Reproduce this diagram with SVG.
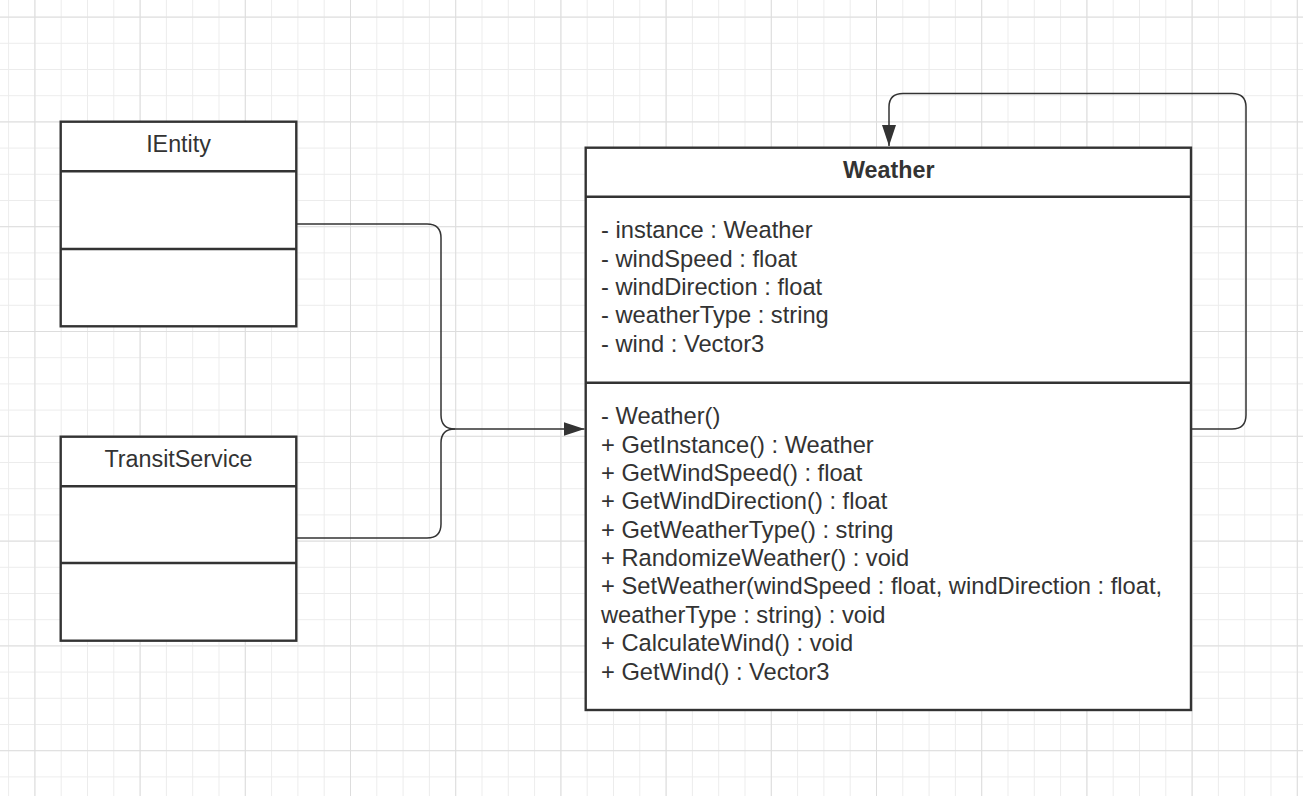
<svg xmlns="http://www.w3.org/2000/svg" width="1303" height="796" viewBox="0 0 1303 796">
  <style>
    .box { fill: #ffffff; stroke: #333333; stroke-width: 2.4; }
    .div { stroke: #333333; stroke-width: 2.4; fill: none; }
    .conn { fill: none; stroke: #333333; stroke-width: 1.5; }
    .t { font-family: "Liberation Sans", Arial, sans-serif; font-size: 23.3px; fill: #333333; }
    .body { font-size: 23.7px; }
    .title { text-anchor: middle; }
    .bold { font-weight: bold; }
  </style>
  <defs>
    <pattern id="minor" x="8.1" y="16.6" width="26.3" height="26.2" patternUnits="userSpaceOnUse">
      <path d="M0.5,0 V26.2 M0,0.5 H26.3" stroke="#ececec" stroke-width="1" fill="none"/>
    </pattern>
    <pattern id="major" x="34.4" y="16.6" width="105.2" height="104.8" patternUnits="userSpaceOnUse">
      <path d="M0.5,0 V104.8 M0,0.5 H105.2" stroke="#dddddd" stroke-width="1" fill="none"/>
    </pattern>
    <marker id="arrow" markerUnits="userSpaceOnUse" markerWidth="22" markerHeight="14" refX="21" refY="7" orient="auto">
      <path d="M0,0 L21,7 L0,14 Z" fill="#333333"/>
    </marker>
  </defs>

  <rect width="1303" height="796" fill="#ffffff"/>
  <rect width="1303" height="796" fill="url(#minor)"/>
  <rect width="1303" height="796" fill="url(#major)"/>

  <g id="connectors">
    <path class="conn" d="M297,224 H427 Q441,224 441,238 V415 Q441,429 455,429 H584.5" marker-end="url(#arrow)"/>
    <path class="conn" d="M297,538 H427 Q441,538 441,524 V443 Q441,429 455,429"/>
    <path class="conn" d="M1191,429 H1232 Q1246,429 1246,415 V107 Q1246,93.5 1232,93.5 H903 Q889,93.5 889,107 V146" marker-end="url(#arrow)"/>
  </g>

  <g id="IEntity">
    <rect class="box" x="60.7" y="121.7" width="235.6" height="204.6"/>
    <line class="div" x1="60.7" y1="171.2" x2="296.3" y2="171.2"/>
    <line class="div" x1="60.7" y1="249" x2="296.3" y2="249"/>
    <text class="t title" x="178.5" y="151.7">IEntity</text>
  </g>

  <g id="TransitService">
    <rect class="box" x="60.7" y="436.7" width="235.6" height="204"/>
    <line class="div" x1="60.7" y1="486.3" x2="296.3" y2="486.3"/>
    <line class="div" x1="60.7" y1="563" x2="296.3" y2="563"/>
    <text class="t title" x="178.5" y="467.3">TransitService</text>
  </g>

  <g id="Weather">
    <rect class="box" x="585.7" y="147.7" width="605.3" height="562.3"/>
    <line class="div" x1="585.7" y1="196.8" x2="1191" y2="196.8"/>
    <line class="div" x1="585.7" y1="382.7" x2="1191" y2="382.7"/>
    <text class="t title bold" x="888.8" y="177.5">Weather</text>
    <text class="t body" x="601">
      <tspan x="601" y="238.3">- instance : Weather</tspan>
      <tspan x="601" y="266.7">- windSpeed : float</tspan>
      <tspan x="601" y="295">- windDirection : float</tspan>
      <tspan x="601" y="323.3">- weatherType : string</tspan>
      <tspan x="601" y="351.7">- wind : Vector3</tspan>
    </text>
    <text class="t body" x="601">
      <tspan x="601" y="424.3">- Weather()</tspan>
      <tspan x="601" y="452.7">+ GetInstance() : Weather</tspan>
      <tspan x="601" y="481">+ GetWindSpeed() : float</tspan>
      <tspan x="601" y="509.4">+ GetWindDirection() : float</tspan>
      <tspan x="601" y="537.7">+ GetWeatherType() : string</tspan>
      <tspan x="601" y="566.1">+ RandomizeWeather() : void</tspan>
      <tspan x="601" y="594.4">+ SetWeather(windSpeed : float, windDirection : float,</tspan>
      <tspan x="601" y="622.8">weatherType : string) : void</tspan>
      <tspan x="601" y="651.1">+ CalculateWind() : void</tspan>
      <tspan x="601" y="679.5">+ GetWind() : Vector3</tspan>
    </text>
  </g>
</svg>
